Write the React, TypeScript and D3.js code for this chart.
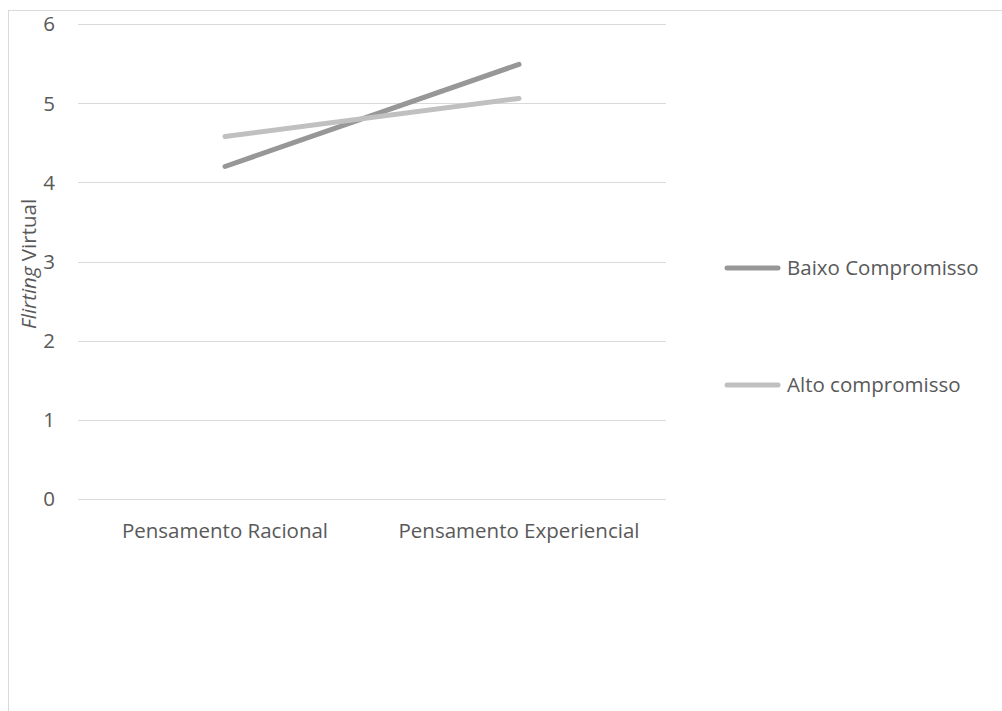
import React from "react";
import * as d3 from "d3";

const categories = ["Pensamento Racional", "Pensamento Experiencial"];
const seriesNames = ["Baixo Compromisso", "Alto compromisso"];
const baixoValues = [4.2, 5.49];
const altoValues = [4.58, 5.06];
const yTicks = [0, 1, 2, 3, 4, 5, 6];
const seriesColors = ["#979797", "#c0c0c0"];

const W = 1002;
const H = 711;
const plot = { left: 78, right: 666, top: 24, bottom: 499 };
const FONT = "'Open Sans', sans-serif";
const TEXT = "#595959";
const FS = 20.5;

export default function App() {
  const x = d3
    .scaleBand<string>()
    .domain(categories)
    .range([plot.left, plot.right]);
  const y = d3.scaleLinear().domain([0, 6]).range([plot.bottom, plot.top]);

  const series = [baixoValues, altoValues];
  const line = d3
    .line<number>()
    .x((_, i) => (x(categories[i]) as number) + x.bandwidth() / 2)
    .y((d) => y(d));

  const legendY = [268, 385];

  return (
    <svg
      width={W}
      height={H}
      style={{ position: "absolute", left: 0, top: 0, background: "#fff" }}
      fontFamily={FONT}
    >
      <rect x={8.5} y={10.5} width={1100} height={800} fill="#fff" stroke="#d9d9d9" strokeWidth={1} />

      {yTicks.map((t) => (
        <g key={t}>
          <line
            x1={plot.left}
            x2={plot.right}
            y1={Math.round(y(t)) + 0.5}
            y2={Math.round(y(t)) + 0.5}
            stroke="#d9d9d9"
            strokeWidth={1}
          />
          <text
            x={55}
            y={y(t)}
            dy="0.36em"
            textAnchor="end"
            fontSize={FS}
            fill={TEXT}
          >
            {t}
          </text>
        </g>
      ))}

      {categories.map((c) => (
        <text
          key={c}
          x={(x(c) as number) + x.bandwidth() / 2}
          y={538}
          textAnchor="middle"
          fontSize={FS}
          fill={TEXT}
        >
          {c}
        </text>
      ))}

      <text
        transform="translate(36,264) rotate(-90)"
        textAnchor="middle"
        fontSize={FS}
        fill={TEXT}
      >
        <tspan fontStyle="italic">Flirting</tspan> Virtual
      </text>

      {series.map((s, i) => (
        <path
          key={seriesNames[i]}
          d={line(s) || ""}
          fill="none"
          stroke={seriesColors[i]}
          strokeWidth={5}
          strokeLinecap="round"
        />
      ))}

      {seriesNames.map((n, i) => (
        <g key={n}>
          <line
            x1={727}
            x2={778}
            y1={legendY[i]}
            y2={legendY[i]}
            stroke={seriesColors[i]}
            strokeWidth={5}
            strokeLinecap="round"
          />
          <text x={787} y={legendY[i]} dy="0.36em" fontSize={FS} fill={TEXT}>
            {n}
          </text>
        </g>
      ))}
    </svg>
  );
}
